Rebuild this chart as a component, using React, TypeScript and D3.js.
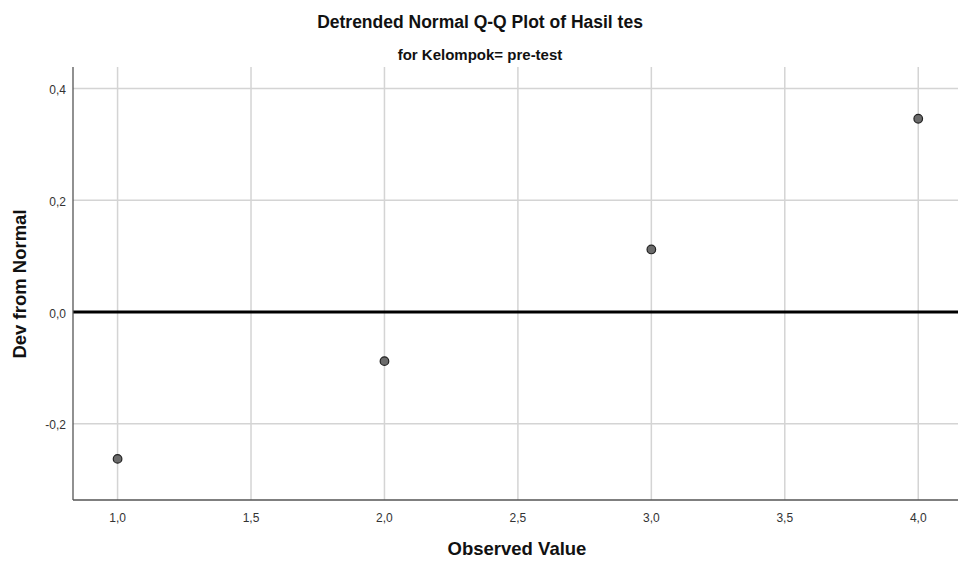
import React from "react";
import * as d3 from "d3";

const observed = [1, 2, 3, 4];
const devFromNormal = [-0.263, -0.088, 0.112, 0.346];
const xTicks = [1.0, 1.5, 2.0, 2.5, 3.0, 3.5, 4.0];
const yTicks = [-0.2, 0.0, 0.2, 0.4];

const W = 958, H = 562;
const left = 73, right = 958, top = 67, bottom = 500;

export default function App() {
  const x = d3.scaleLinear().domain([0.833, 4.149]).range([left, right]);
  const y = d3.scaleLinear().domain([-0.3366, 0.4387]).range([bottom, top]);
  const fmt = (v: number) => d3.format(".1f")(v).replace(".", ",").replace("−", "-");
  const font = "'Liberation Sans', Arial, sans-serif";
  return (
    <svg width={W} height={H} style={{ position: "absolute", left: 0, top: 0, background: "#fff" }} fontFamily={font}>
      <rect x={0} y={0} width={W} height={H} fill="#fff" />
      <text x={480} y={27.5} textAnchor="middle" fontSize={17.5} fontWeight="bold" fill="#111">Detrended Normal Q-Q Plot of Hasil tes</text>
      <text x={480} y={60} textAnchor="middle" fontSize={15} fontWeight="bold" fill="#111">for Kelompok= pre-test</text>
      {xTicks.map((t) => (
        <line key={"gx" + t} x1={x(t)} x2={x(t)} y1={top} y2={bottom} stroke="#d4d4d4" strokeWidth={1.5} />
      ))}
      {yTicks.filter((t) => t !== 0).map((t) => (
        <line key={"gy" + t} x1={left} x2={right} y1={y(t)} y2={y(t)} stroke="#d4d4d4" strokeWidth={1.5} />
      ))}
      <line x1={left} x2={right} y1={y(0)} y2={y(0)} stroke="#000" strokeWidth={3} />
      <line x1={left} x2={left} y1={top} y2={bottom} stroke="#555" strokeWidth={1.3} />
      <line x1={left} x2={right} y1={bottom} y2={bottom} stroke="#555" strokeWidth={1.3} />
      {yTicks.map((t) => (
        <text key={"ty" + t} x={66} y={y(t) + 5.5} textAnchor="end" fontSize={12} fill="#333">{fmt(t)}</text>
      ))}
      {xTicks.map((t) => (
        <text key={"tx" + t} x={x(t)} y={522} textAnchor="middle" fontSize={12} fill="#333">{fmt(t)}</text>
      ))}
      {observed.map((o, i) => (
        <circle key={"p" + i} cx={x(o)} cy={y(devFromNormal[i])} r={4.3} fill="#6b6b6b" stroke="#222" strokeWidth={1.2} />
      ))}
      <text x={517} y={555} textAnchor="middle" fontSize={18.5} fontWeight="bold" fill="#111">Observed Value</text>
      <text transform={`translate(26,284) rotate(-90)`} textAnchor="middle" fontSize={18.5} fontWeight="bold" fill="#111">Dev from Normal</text>
    </svg>
  );
}
